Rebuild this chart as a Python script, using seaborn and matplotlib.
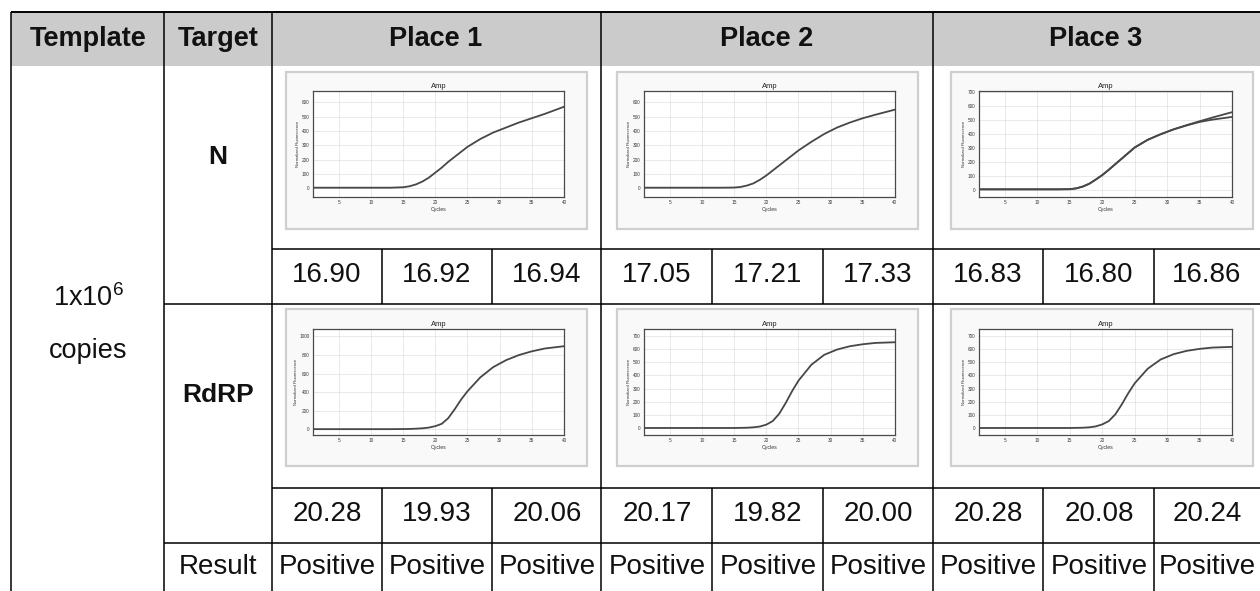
import numpy as np
import pandas as pd
import matplotlib
matplotlib.use("Agg")
import matplotlib.pyplot as plt
import seaborn as sns
from matplotlib.lines import Line2D
from matplotlib.patches import Rectangle

# ---------------- data ----------------
header = ["Template", "Target", "Place 1", "Place 2", "Place 3"]
targets = ["N", "RdRP"]
template_lines = ["1x10$^{6}$", "copies"]
n_ct = ["16.90", "16.92", "16.94", "17.05", "17.21", "17.33", "16.83", "16.80", "16.86"]
rdrp_ct = ["20.28", "19.93", "20.06", "20.17", "19.82", "20.00", "20.28", "20.08", "20.24"]
result_label = "Result"
results = ["Positive", "Positive", "Positive", "Positive", "Positive",
           "Positive", "Positive", "Positive", "Positive"]

cycles = [1, 5, 10, 13, 15, 16, 17, 18, 19, 20, 21, 22, 23, 24, 25, 27, 29, 31, 33, 35, 37, 40]
n_place1 = [5, 5, 5, 5, 8, 15, 28, 48, 75, 110, 145, 185, 220, 255, 290, 345, 390, 425, 460, 490, 520, 570]
n_place2 = [5, 5, 5, 5, 6, 10, 20, 35, 60, 90, 125, 160, 195, 230, 265, 325, 380, 425, 460, 490, 515, 550]
n_place3 = [5, 5, 5, 5, 6, 12, 25, 45, 75, 107, 145, 185, 225, 265, 305, 360, 400, 435, 465, 493, 520, 558]
n_place3_b = [5, 5, 5, 5, 6, 12, 25, 45, 75, 107, 145, 185, 225, 265, 305, 360, 400, 435, 463, 488, 505, 524]
rdrp_place1 = [3, 3, 3, 3, 4, 5, 8, 12, 20, 35, 60, 120, 215, 320, 410, 560, 670, 745, 800, 840, 870, 895]
rdrp_place2 = [3, 3, 3, 3, 3, 4, 5, 8, 14, 28, 55, 110, 190, 280, 360, 480, 555, 595, 620, 635, 645, 650]
rdrp_place3 = [3, 3, 3, 3, 3, 4, 5, 8, 15, 30, 55, 105, 180, 265, 340, 450, 520, 560, 585, 600, 610, 615]

x_ticks = [5, 10, 15, 20, 25, 30, 35, 40]
n_yticks_a = [0, 100, 200, 300, 400, 500, 600]
n_yticks_b = [0, 100, 200, 300, 400, 500, 600, 700]
rdrp_yticks_a = [0, 200, 400, 600, 800, 1000]
rdrp_yticks_b = [0, 100, 200, 300, 400, 500, 600, 700]

# ---------------- figure ----------------
sns.set_theme(style="white")
plt.rcParams["font.family"] = ["Liberation Sans", "DejaVu Sans"]
plt.rcParams["mathtext.fontset"] = "custom"
plt.rcParams["mathtext.rm"] = "Liberation Sans"

W, H = 1260, 591
fig = plt.figure(figsize=(W / 100, H / 100), dpi=100)
fig.patch.set_facecolor("white")


def fx(x):
    return x / W


def fy(y):
    return 1 - y / H


def hline(y, x0, x1, lw=1.1):
    fig.add_artist(Line2D([fx(x0), fx(x1)], [fy(y), fy(y)], transform=fig.transFigure,
                          color="black", lw=lw, solid_capstyle="butt", zorder=5))


def vline(x, y0, y1, lw=1.1):
    fig.add_artist(Line2D([fx(x), fx(x)], [fy(y0), fy(y1)], transform=fig.transFigure,
                          color="black", lw=lw, solid_capstyle="butt", zorder=5))


def txt(x, y, s, bold=False, size=20):
    fig.text(fx(x), fy(y), s, ha="center", va="center", fontsize=size,
             fontweight="bold" if bold else "normal", color="#111111")


# header background
fig.add_artist(Rectangle((fx(11), fy(66)), (1260 - 11) / W, (66 - 12) / H,
                         transform=fig.transFigure, facecolor="#cbcbcb", edgecolor="none",
                         zorder=-2))

# grid lines
hline(12, 11, 1260, lw=1.4)
for x in [11, 164, 272, 601, 933]:
    vline(x, 12, 591)
for x in [382, 492, 712, 823, 1043, 1154]:
    vline(x, 249, 304)
    vline(x, 488, 591)
hline(249, 272, 1260)
hline(304, 164, 1260)
hline(488, 272, 1260)
hline(543, 164, 1260)

# header text
header_x = [88, 218, 436, 767, 1096]
for x, s in zip(header_x, header):
    txt(x, 39, s, bold=True, size=19.5)

# left columns
txt(88, 298, template_lines[0], size=19.5)
txt(88, 351, template_lines[1], size=19.5)
txt(218, 157, targets[0], bold=True, size=19)
txt(218, 395, targets[1], bold=True, size=19)
txt(218, 567, result_label)

sub_x = [327, 437, 547, 657, 768, 878, 988, 1099, 1207]
for x, s in zip(sub_x, n_ct):
    txt(x, 275, s)
for x, s in zip(sub_x, rdrp_ct):
    txt(x, 514, s)
for x, s in zip(sub_x, results):
    txt(x, 567, s)

# amplification plots
frames_x = [(286, 587), (617, 918), (951, 1253)]
inner_x = [(313, 564), (644, 895), (979, 1232)]
rows = [
    dict(frame=(72, 229), inner=(91, 197),
         curves=[[n_place1], [n_place2], [n_place3, n_place3_b]],
         ylims=[(-60, 680), (-60, 680), (-50, 710)],
         yticks=[n_yticks_a, n_yticks_a, n_yticks_b]),
    dict(frame=(309, 466), inner=(329, 435),
         curves=[[rdrp_place1], [rdrp_place2], [rdrp_place3]],
         ylims=[(-60, 1080), (-50, 750), (-50, 750)],
         yticks=[rdrp_yticks_a, rdrp_yticks_b, rdrp_yticks_b]),
]

for row in rows:
    fy0, fy1 = row["frame"]
    iy0, iy1 = row["inner"]
    for k in range(3):
        x0, x1 = frames_x[k]
        fig.add_artist(Rectangle((fx(x0), fy(fy1)), (x1 - x0) / W, (fy1 - fy0) / H,
                                 transform=fig.transFigure, facecolor="#f9f9f9",
                                 edgecolor="#cfcfcf", lw=1.6, zorder=-1))
        ax0, ax1 = inner_x[k]
        ax = fig.add_axes([fx(ax0), fy(iy1), (ax1 - ax0) / W, (iy1 - iy0) / H])
        ax.set_zorder(1)
        ax.set_facecolor("white")
        for series in row["curves"][k]:
            df = pd.DataFrame({"Cycles": cycles, "Fluor": series})
            sns.lineplot(data=df, x="Cycles", y="Fluor", ax=ax, color="#474747", lw=1.3)
        ax.set_xlim(1, 40)
        ax.set_ylim(*row["ylims"][k])
        ax.set_xticks(x_ticks)
        ax.set_yticks(row["yticks"][k])
        ax.tick_params(labelsize=3.4, length=1.5, width=0.5, pad=1, colors="#3a3a3a")
        ax.grid(True, color="#dcdcdc", lw=0.45)
        for sp in ax.spines.values():
            sp.set_color("#4a4a4a")
            sp.set_linewidth(0.9)
        ax.set_title("Amp", fontsize=5.5, pad=2, color="#222222")
        ax.set_xlabel("Cycles", fontsize=3.8, labelpad=1, color="#333333")
        ax.set_ylabel("Normalized Fluorescence", fontsize=3.0, labelpad=1, color="#333333")

fig.savefig("out.png", dpi=100)
